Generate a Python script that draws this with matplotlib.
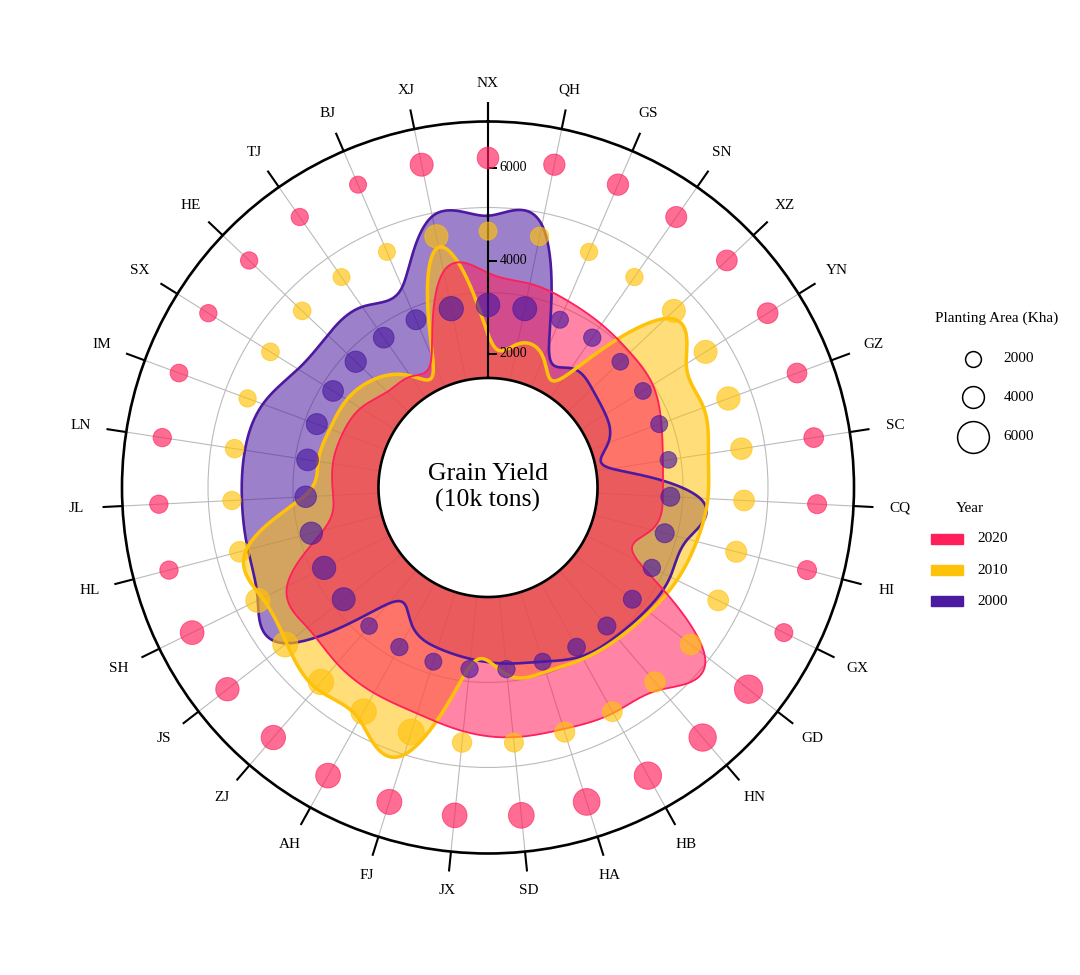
import numpy as np
import matplotlib
matplotlib.use('Agg')
import matplotlib.pyplot as plt
from matplotlib.patches import Rectangle

plt.rcParams['font.family'] = ['Liberation Serif', 'DejaVu Serif']

# ---------------- data ----------------
provinces = ['NX', 'QH', 'GS', 'SN', 'XZ', 'YN', 'GZ', 'SC', 'CQ', 'HI', 'GX',
             'GD', 'HN', 'HB', 'HA', 'SD', 'JX', 'FJ', 'AH', 'ZJ', 'JS', 'SH',
             'HL', 'JL', 'LN', 'IM', 'SX', 'HE', 'TJ', 'BJ', 'XJ']

# grain yield (10k tons)
yield_2020 = [3740, 3600, 3490, 3400, 3340, 3300, 3100, 2930, 2890, 2760, 2720,
              5020, 4850, 4675, 4570, 4525, 4395, 4220, 4180, 4115, 4040, 3940,
              2780, 2460, 2500, 2460, 2350, 2110, 2030, 2200, 3870]
yield_2010 = [2420, 2270, 2150, 2050, 4400, 4150, 4070, 3920, 3860, 3760, 3650,
              3510, 3410, 3340, 3275, 3170, 3000, 5150, 4830, 4810, 4600, 4530,
              4500, 3100, 2820, 2750, 2700, 2500, 2050, 2130, 4400]
yield_2000 = [4970, 4890, 2450, 2250, 2210, 2100, 1880, 1810, 3690, 3560, 3490,
              3430, 3350, 3275, 3050, 2930, 2830, 2740, 2500, 2420, 4600, 4640,
              4460, 4425, 4415, 4290, 3940, 3880, 3860, 3810, 5080]

# planting area (Kha)
area_2020 = [3820, 3740, 3740, 3660, 3580, 3580, 3290, 3290, 3070, 3070, 2720,
             5290, 5100, 5100, 4980, 4770, 4560, 4630, 4560, 4470, 4240, 4340,
             2830, 2830, 2830, 2610, 2450, 2450, 2450, 2320, 4170]
area_2010 = [2720, 2830, 2450, 2450, 4170, 4170, 4240, 3790, 3580, 3660, 3580,
             3580, 3460, 3290, 3380, 3070, 3220, 4840, 4730, 4730, 4630, 4400,
             3520, 2830, 2900, 2450, 2610, 2610, 2320, 2320, 4240]
area_2000 = [4290, 4400, 2320, 2450, 2190, 2190, 2320, 2190, 3070, 3070, 2450,
             2720, 2720, 2610, 2320, 2450, 2450, 2320, 2450, 2190, 4170, 4240,
             4000, 3790, 3850, 3660, 3580, 3740, 3580, 3380, 4470]

years = ['2020', '2010', '2000']
radial_ticks = [2000, 4000, 6000]
legend_areas = [2000, 4000, 6000]

# ---------------- styles / layout ----------------
DPI = 100
colors = {'2020': '#FF1F5B', '2010': '#FFC20A', '2000': '#4B1AA0'}
line_w = {'2020': 1.3, '2010': 2.5, '2000': 1.9}
R_MIN, R_MAX = -880, 7000
HOLE = 1478
GRID_RINGS = [3318, 5148]
BUBBLE_RING = {'2000': 3050, '2010': 4640, '2020': 6215}
TICK_OUT = 7430


def bubble_px(area):
    a = np.asarray(area, float) / 1000.0
    return 15.3 + 0.5 * a ** 2


def px_to_s(d_px):
    return (np.asarray(d_px, float) * 72.0 / DPI) ** 2


def periodic_spline(y, per=32):
    y = np.asarray(y, float)
    n = len(y)
    eye = np.eye(n)
    A = 4 * eye + np.roll(eye, 1, axis=1) + np.roll(eye, -1, axis=1)
    rhs = 6 * (np.roll(y, -1) - 2 * y + np.roll(y, 1))
    M = np.linalg.solve(A, rhs)
    t = np.arange(n * per) / per
    i = np.floor(t).astype(int)
    u = t - i
    j = (i + 1) % n
    s = ((1 - u) * y[i] + u * y[j]
         + ((1 - u) ** 3 - (1 - u)) * M[i] / 6 + (u ** 3 - u) * M[j] / 6)
    t = np.append(t, n)
    s = np.append(s, s[0])
    return t * 2 * np.pi / n, s


fig = plt.figure(figsize=(10.8, 9.75), dpi=DPI)
fig.patch.set_facecolor('white')
ax = fig.add_axes([0.11296, 0.12462, 0.67778, 0.75077], projection='polar')
ax.set_theta_zero_location('N')
ax.set_theta_direction(-1)
ax.set_ylim(R_MIN, R_MAX)

n = len(provinces)
theta = np.arange(n) * 2 * np.pi / n
ax.set_xticks(theta)
ax.set_xticklabels([])
ax.set_yticks(GRID_RINGS)
ax.set_yticklabels([])
ax.tick_params(length=0)
ax.grid(True, color='#BBBBBB', lw=0.8)
ax.spines['polar'].set_linewidth(1.9)
ax.spines['polar'].set_color('black')

series = {'2020': (yield_2020, area_2020),
          '2010': (yield_2010, area_2010),
          '2000': (yield_2000, area_2000)}

# fills (2000 bottom, 2020 top)
for k, yr in enumerate(['2000', '2010', '2020']):
    tf, rf = periodic_spline(series[yr][0])
    ax.fill(tf, rf, color=colors[yr], alpha=0.55, lw=0, zorder=2 + k)
for k, yr in enumerate(['2000', '2010', '2020']):
    tf, rf = periodic_spline(series[yr][0])
    ax.plot(tf, rf, color=colors[yr], lw=line_w[yr], zorder=5 + k)

# outer ticks and labels
for t, name in zip(theta, provinces):
    ax.plot([t, t], [R_MAX, TICK_OUT], color='black', lw=1.5,
            solid_capstyle='butt', clip_on=False, zorder=9)
    r_px = 404 + 8 * abs(np.sin(t))
    v_lab = r_px / 366.0 * (R_MAX - R_MIN) + R_MIN
    ax.text(t, v_lab, name, ha='center', va='center', fontsize=11,
            clip_on=False)

# radial axis along NX
ax.plot([0, 0], [HOLE, TICK_OUT], color='black', lw=1.5,
        solid_capstyle='butt', clip_on=False, zorder=9)
ax.plot([0] * len(radial_ticks), radial_ticks, linestyle='none',
        marker=[(0, 0), (1, 0)], ms=13, mew=1.4, color='black', zorder=9)
for v in radial_ticks:
    ax.annotate(str(v), xy=(0, v), xytext=(8.4, 0), textcoords='offset points',
                ha='left', va='center', fontsize=10, zorder=9)

# bubbles
for yr in years:
    d = bubble_px(series[yr][1])
    ax.scatter(theta, np.full(n, BUBBLE_RING[yr]), s=px_to_s(d - 1.0),
               color=colors[yr], alpha=0.65, edgecolors=colors[yr],
               linewidths=0.7, zorder=10)

# central hole
th = np.linspace(0, 2 * np.pi, 400)
ax.fill(th, np.full_like(th, HOLE), facecolor='white', edgecolor='black',
        lw=1.9, zorder=12)
ax.text(0.5, 0.5, 'Grain Yield\n(10k tons)', transform=ax.transAxes,
        ha='center', va='center', fontsize=18.5, linespacing=1.25, zorder=13)

# ---------------- legends ----------------
lax = fig.add_axes([0, 0, 1, 1])
lax.set_xlim(0, 1080)
lax.set_ylim(975, 0)
lax.axis('off')

lax.text(996.7, 318, 'Planting Area (Kha)', ha='center', va='center',
         fontsize=11)
for a, yy in zip(legend_areas, [359, 397.3, 436.7]):
    lax.scatter([973], [yy], s=px_to_s(bubble_px([a]) - 1.5), facecolor='white',
                edgecolor='black', linewidths=1.1)
    lax.text(1003.3, yy, str(a), ha='left', va='center', fontsize=11)

lax.text(970, 508, 'Year', ha='center', va='center', fontsize=11)
for yr, yy in zip(years, [539, 570.3, 601.3]):
    lax.add_patch(Rectangle((930.7, yy - 4.85), 32.6, 9.7, color=colors[yr]))
    lax.text(977.3, yy, yr, ha='left', va='center', fontsize=11)

fig.savefig('out.png', dpi=DPI, facecolor='white')
